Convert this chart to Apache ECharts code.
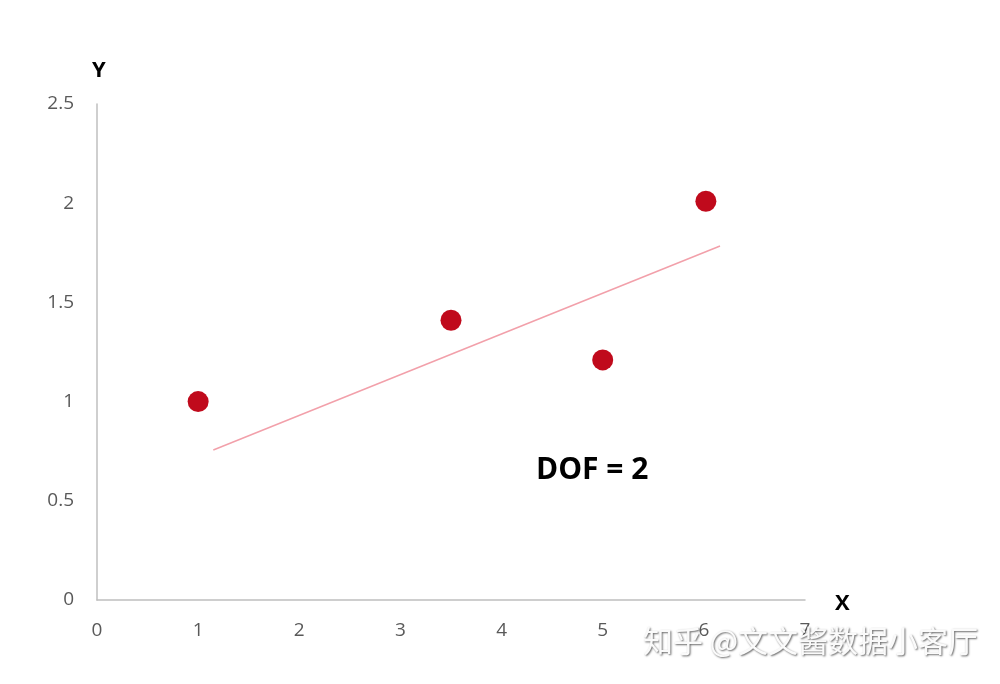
<!DOCTYPE html>
<html><head><meta charset="utf-8">
<script src="https://cdn.jsdelivr.net/npm/echarts@6/dist/echarts.min.js"></script>
<style>html,body{margin:0;padding:0;background:#fff}#c{width:1000px;height:684px}</style>
</head><body><div id="c"></div>
<script>
const xTicks = [0, 1, 2, 3, 4, 5, 6, 7];
const yTicks = [0, 0.5, 1, 1.5, 2, 2.5];
const pointsX = [1, 3.5, 5, 6.02];
const pointsY = [1.0, 1.41, 1.21, 2.01];
const lineX = [1.15, 6.16];
const lineY = [0.756, 1.784];
const annotation = 'DOF = 2';
const watermark = '知乎 @文文酱数据小客厅';

const chart = echarts.init(document.getElementById('c'));
const fontFam = '"Open Sans", "Liberation Sans", sans-serif';
chart.setOption({
  backgroundColor: '#ffffff',
  animation: false,
  grid: { left: 97, right: 195, top: 104, bottom: 84 },
  xAxis: {
    type: 'value', min: 0, max: 7, interval: 1,
    axisLine: { show: true, lineStyle: { color: '#bfbfbf', width: 1.5 } },
    axisTick: { show: false },
    splitLine: { show: false },
    axisLabel: { color: '#595959', fontSize: 19, fontFamily: fontFam, margin: 21 }
  },
  yAxis: {
    type: 'value', min: 0, max: 2.5, interval: 0.5,
    axisLine: { show: true, lineStyle: { color: '#bfbfbf', width: 1.5 } },
    axisTick: { show: false },
    splitLine: { show: false },
    axisLabel: { color: '#595959', fontSize: 19, fontFamily: fontFam, margin: 23 }
  },
  series: [
    {
      type: 'line',
      data: lineX.map((x, i) => [x, lineY[i]]),
      showSymbol: false,
      lineStyle: { color: '#f2a0aa', width: 1.5 },
      z: 2
    },
    {
      type: 'scatter',
      data: pointsX.map((x, i) => [x, pointsY[i]]),
      symbolSize: 21,
      itemStyle: { color: '#c00a1c', opacity: 1 },
      z: 3
    }
  ],
  graphic: [
    { type: 'text', left: 92, top: 60, style: { text: 'Y', fill: '#000', font: 'bold 22px ' + fontFam } },
    { type: 'text', left: 835, top: 593, style: { text: 'X', fill: '#000', font: 'bold 22px ' + fontFam } },
    { type: 'text', left: 536, top: 455, style: { text: annotation, fill: '#000', font: 'bold 30px ' + fontFam } },
    { type: 'text', left: 643, top: 626, z: 100, style: { text: watermark, fill: '#fafafa', font: '30px "Noto Sans CJK SC", sans-serif',
        textShadowColor: 'rgba(0,0,0,0.6)', textShadowBlur: 2, textShadowOffsetX: 1, textShadowOffsetY: 1 } }
  ]
});
</script></body></html>
